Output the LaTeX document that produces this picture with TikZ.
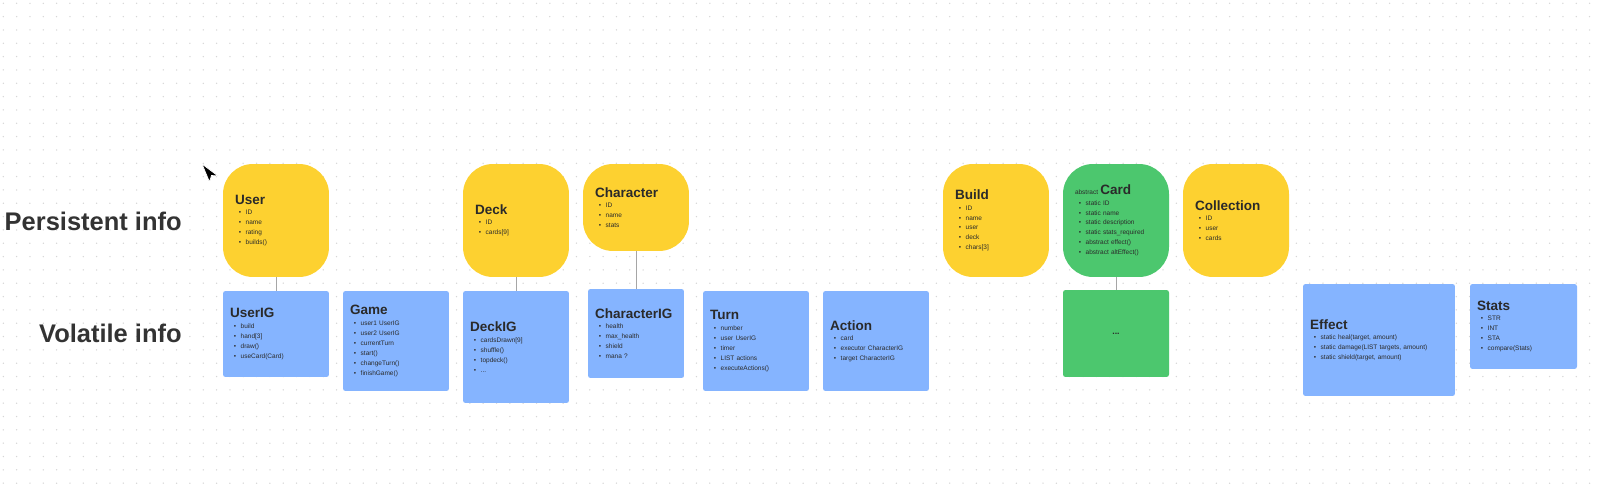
\documentclass[tikz,border=0pt]{standalone}
\usepackage{fontspec}
\setmainfont{Liberation Sans}
\usetikzlibrary{positioning}
\definecolor{persistyellow}{HTML}{FDD130}
\definecolor{abstractgreen}{HTML}{4CC76E}
\definecolor{volatileblue}{HTML}{85B4FF}
\definecolor{inkdark}{HTML}{2A2A2A}
\definecolor{griddot}{HTML}{D6D6D6}
\newcommand\boxtitle[1]{{\fontsize{7.7pt}{9pt}\selectfont\bfseries #1}}
\newcommand\bitem[1]{\hspace*{2.2pt}\textbullet\hspace{2.6pt}#1}

\begin{document}
\begin{tikzpicture}[x=0.02cm,y=-0.02cm,
  bodyfont/.style={font=\fontsize{3.7pt}{5.67pt}\selectfont},
  persist/.style={bodyfont,fill=persistyellow,rounded corners=0.6cm,inner xsep=0.24cm,inner ysep=0pt,
    text width=1.64cm,minimum height=2.26cm,align=left,text=inkdark},
  volatile/.style={bodyfont,fill=volatileblue,rounded corners=0.05cm,inner xsep=0.14cm,inner ysep=0pt,
    text width=1.84cm,align=left,text=inkdark},
  rowlabel/.style={font=\fontsize{14.5pt}{17pt}\selectfont\bfseries,text=black!80,anchor=east,inner sep=0pt},
  link/.style={draw=black!35,line width=0.5pt}]
\useasboundingbox (0,0) rectangle (1600,489);
\fill[white] (0,0) rectangle (1600,489);
% dotted canvas
\foreach \i in {0,...,119}{
  \foreach \j in {0,...,36}{
    \fill[griddot] (3.3+13.33*\i,3.3+13.33*\j) circle (0.75);
  }
}
% row labels
\node[rowlabel] (persistent) at (182,221) {Persistent info};
\node[rowlabel] (volatileinfo) at (182,333) {Volatile info};
% persistent row
\node[persist] (user) at (276,220.5) {\boxtitle{User}\\[0.3pt]\bitem{ID}\\\bitem{name}\\\bitem{rating}\\\bitem{builds()}};
\node[persist] (deck) at (516,220.5) {\boxtitle{Deck}\\[0.3pt]\bitem{ID}\\\bitem{cards[9]}};
\node[persist,minimum height=1.74cm] (character) at (636,207.5) {\boxtitle{Character}\\[0.3pt]\bitem{ID}\\\bitem{name}\\\bitem{stats}};
\node[persist] (build) at (996,220.5) {\boxtitle{Build}\\[0.3pt]\bitem{ID}\\\bitem{name}\\\bitem{user}\\\bitem{deck}\\\bitem{chars[3]}};
\node[persist,fill=abstractgreen] (card) at (1116,220.5) {abstract \boxtitle{Card}\\[0.3pt]\bitem{static ID}\\\bitem{static name}\\\bitem{static description}\\\bitem{static stats\_required}\\\bitem{abstract effect()}\\\bitem{abstract altEffect()}};
\node[persist] (collection) at (1236,220.5) {\boxtitle{Collection}\\[0.3pt]\bitem{ID}\\\bitem{user}\\\bitem{cards}};
% volatile row
\node[volatile,minimum height=1.72cm] (userig) at (276,334) {\boxtitle{UserIG}\\[0.3pt]\bitem{build}\\\bitem{hand[3]}\\\bitem{draw()}\\\bitem{useCard(Card)}};
\node[volatile,minimum height=2.0cm] (game) at (396,341) {\boxtitle{Game}\\[0.3pt]\bitem{user1 UserIG}\\\bitem{user2 UserIG}\\\bitem{currentTurn}\\\bitem{start()}\\\bitem{changeTurn()}\\\bitem{finishGame()}};
\node[volatile,minimum height=2.24cm] (deckig) at (516,347) {\boxtitle{DeckIG}\\[0.3pt]\bitem{cardsDrawn[9]}\\\bitem{shuffle()}\\\bitem{topdeck()}\\\bitem{...}};
\node[volatile,minimum height=1.78cm,text width=1.64cm] (characterig) at (636,333.5) {\boxtitle{CharacterIG}\\[0.3pt]\bitem{health}\\\bitem{max\_health}\\\bitem{shield}\\\bitem{mana ?}};
\node[volatile,minimum height=2.0cm] (turn) at (756,341) {\boxtitle{Turn}\\[0.3pt]\bitem{number}\\\bitem{user UserIG}\\\bitem{timer}\\\bitem{LIST actions}\\\bitem{executeActions()}};
\node[volatile,minimum height=2.0cm] (action) at (876,341) {\boxtitle{Action}\\[0.3pt]\bitem{card}\\\bitem{executor CharacterIG}\\\bitem{target CharacterIG}};
\node[volatile,fill=abstractgreen,minimum height=1.74cm,align=center,font=\fontsize{5pt}{6pt}\selectfont\bfseries] (cardig) at (1116,333.5) {...};
\node[volatile,minimum height=2.24cm,text width=2.76cm] (effect) at (1379,340) {\boxtitle{Effect}\\[0.3pt]\bitem{static heal(target, amount)}\\\bitem{static damage(LIST targets, amount)}\\\bitem{static shield(target, amount)}};
\node[volatile,minimum height=1.70cm,text width=1.86cm] (stats) at (1523.5,326.5) {\boxtitle{Stats}\\[0.3pt]\bitem{STR}\\\bitem{INT}\\\bitem{STA}\\\bitem{compare(Stats)}};
% persistent to volatile
\draw[link] (user) -- (userig);
\draw[link] (deck) -- (deckig);
\draw[link] (character) -- (characterig);
\draw[link] (card) -- (cardig);
% pointer
\fill[black,draw=white,line width=0.4pt] (202,164) -- (209.5,182) -- (211.5,175.5) -- (218,176) -- cycle;
\end{tikzpicture}
\end{document}
